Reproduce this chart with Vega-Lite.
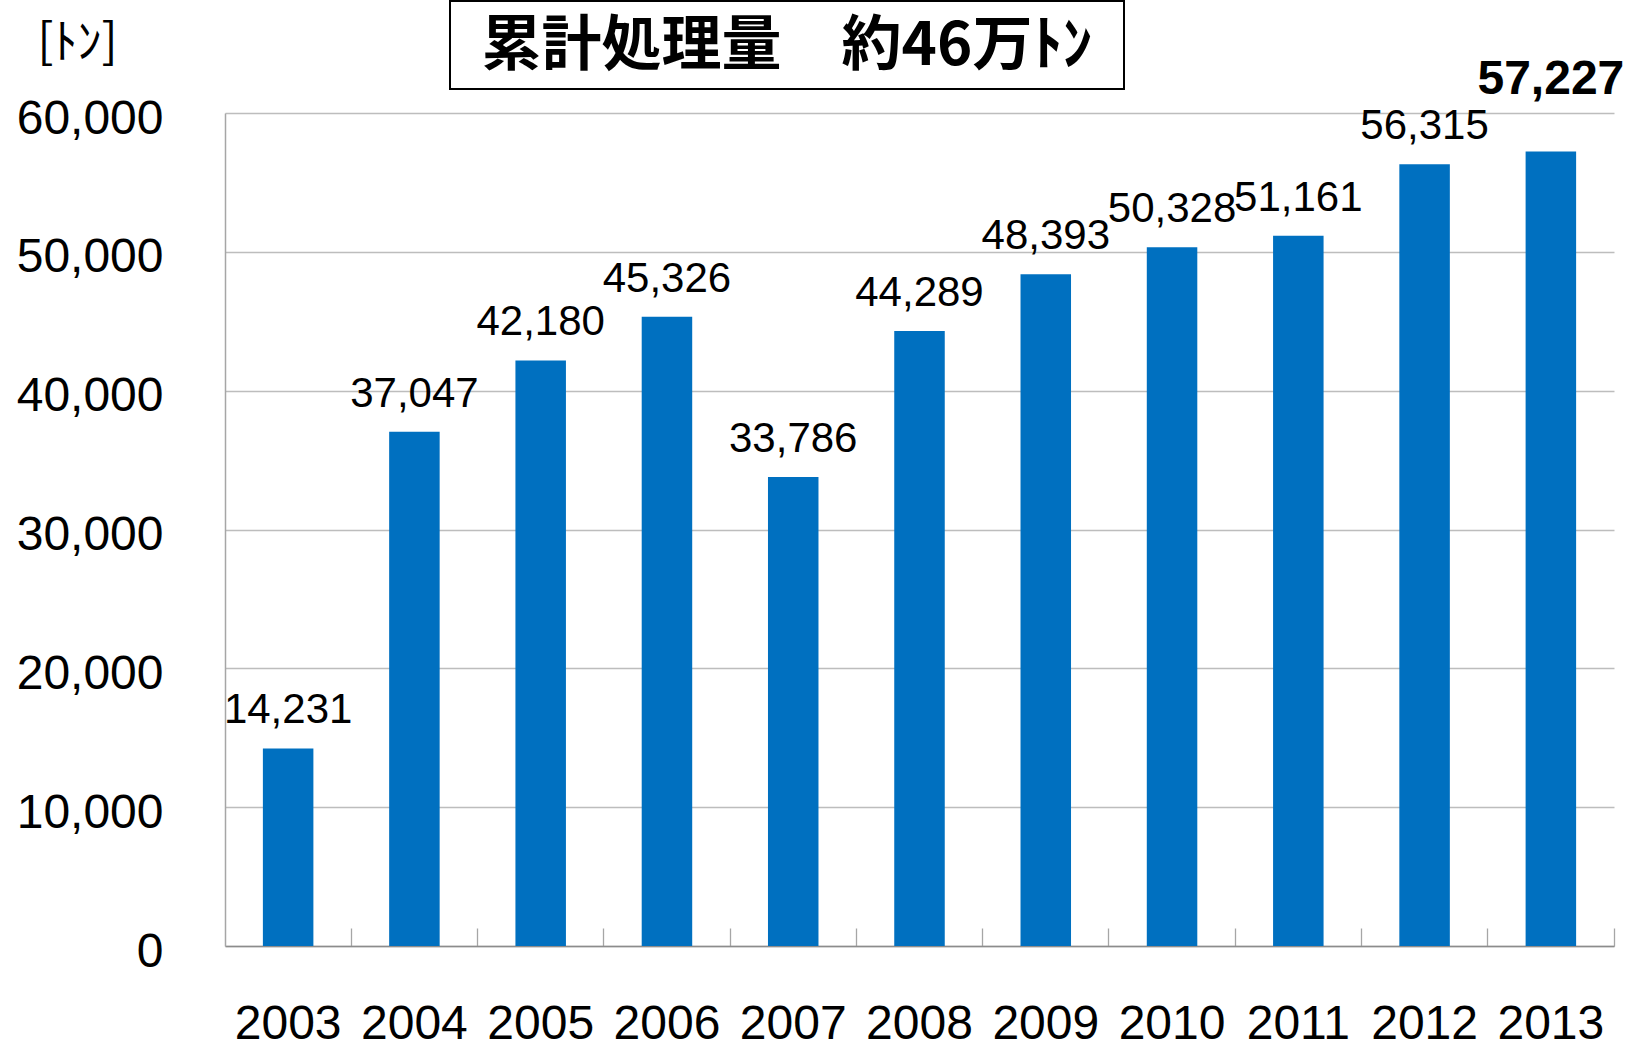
{
  "$schema": "https://vega.github.io/schema/vega-lite/v6.json",
  "padding": {"left": 16, "top": 0, "right": 0, "bottom": 0},
  "background": "white",
  "bounds": "flush",
  "spacing": 112,
  "config": {"view": {"stroke": null}},
  "datasets": {
    "recycle": [
      {"year": "2003", "tons": 14231},
      {"year": "2004", "tons": 37047},
      {"year": "2005", "tons": 42180},
      {"year": "2006", "tons": 45326},
      {"year": "2007", "tons": 33786},
      {"year": "2008", "tons": 44289},
      {"year": "2009", "tons": 48393},
      {"year": "2010", "tons": 50328},
      {"year": "2011", "tons": 51161},
      {"year": "2012", "tons": 56315},
      {"year": "2013", "tons": 57227}
    ],
    "heading": [{"label": "累計処理量　約46万ﾄﾝ"}]
  },
  "vconcat": [
    {
      "bounds": "flush",
      "spacing": 0,
      "hconcat": [
        {
          "width": 225,
          "height": 88,
          "data": {"name": "heading"},
          "mark": {"type": "text", "opacity": 0},
          "encoding": {"text": {"field": "label"}}
        },
        {
          "width": 674,
          "height": 88,
          "view": {"stroke": "black", "strokeWidth": 2},
          "data": {"name": "heading"},
          "mark": {"type": "text", "font": "Noto Sans CJK JP", "fontSize": 60, "fontWeight": "bold", "color": "black", "baseline": "middle", "align": "center", "dy": 2},
          "encoding": {"text": {"field": "label"}}
        }
      ]
    },
    {
      "width": 1389,
      "height": 833,
      "data": {"name": "recycle"},
      "encoding": {
        "x": {
          "field": "year",
          "type": "ordinal",
          "scale": {"paddingInner": 0.6, "paddingOuter": 0.3},
          "axis": {
            "title": null,
            "labelAngle": 0,
            "labelFont": "Liberation Sans",
            "labelFontSize": 48,
            "labelColor": "black",
            "labelPadding": 72,
            "ticks": true,
            "tickSize": -18,
            "tickColor": "#a6a6a6",
            "tickWidth": 1.3,
            "bandPosition": 1.75,
            "domainColor": "#8c8c8c",
            "domainWidth": 1.5,
            "grid": false
          }
        },
        "y": {
          "field": "tons",
          "type": "quantitative",
          "scale": {"domain": [0, 60000], "nice": false},
          "axis": {
            "title": "[ﾄﾝ]",
            "titleAngle": 0,
            "titleX": -148,
            "titleY": -70,
            "titleAlign": "center",
            "titleBaseline": "middle",
            "titleFont": "Noto Sans CJK JP",
            "titleFontSize": 48,
            "titleFontWeight": "normal",
            "titleColor": "black",
            "values": [0, 10000, 20000, 30000, 40000, 50000, 60000],
            "format": ",d",
            "labelFont": "Liberation Sans",
            "labelFontSize": 48,
            "labelColor": "black",
            "labelPadding": 62,
            "labelOffset": 6,
            "ticks": false,
            "domainColor": "#a6a6a6",
            "domainWidth": 1.5,
            "grid": true,
            "gridColor": "#bdbdbd",
            "gridWidth": 1.3
          }
        }
      },
      "layer": [
        {"mark": {"type": "bar", "color": "#0070C0"}},
        {
          "transform": [{"filter": "datum.year != '2013'"}],
          "mark": {"type": "text", "font": "Liberation Sans", "fontSize": 42, "color": "black", "baseline": "alphabetic", "align": "center", "dy": -25},
          "encoding": {"text": {"field": "tons", "type": "quantitative", "format": ",d"}}
        },
        {
          "transform": [{"filter": "datum.year == '2013'"}],
          "mark": {"type": "text", "font": "Liberation Sans", "fontSize": 48, "fontWeight": "bold", "color": "black", "baseline": "alphabetic", "align": "center", "dy": -57},
          "encoding": {"text": {"field": "tons", "type": "quantitative", "format": ",d"}}
        }
      ]
    }
  ]
}
